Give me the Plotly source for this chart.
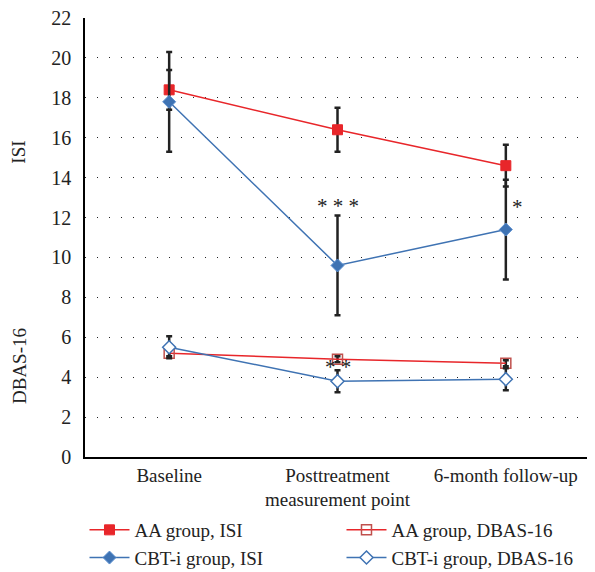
import plotly.graph_objects as go

categories = ["Baseline", "Posttreatment<br>measurement point", "6-month follow-up"]

aa_isi = [18.4, 16.4, 14.6]
aa_isi_err = [1.0, 1.1, 1.05]
cbt_isi = [17.8, 9.6, 11.4]
cbt_isi_err = [2.5, 2.5, 2.5]
aa_dbas = [5.2, 4.9, 4.7]
aa_dbas_err = [0.15, 0.15, 0.15]
cbt_dbas = [5.5, 3.8, 3.9]
cbt_dbas_err = [0.55, 0.55, 0.55]

yticks = list(range(0, 23, 2))

RED = "#e8262a"
BLUE = "#3f73b3"
FONT = "Liberation Serif"

fig = go.Figure()

def err(arr):
    return dict(type="data", array=arr, visible=True, color="#222222", thickness=2.5, width=3)

fig.add_trace(go.Scatter(x=categories, y=aa_isi, name="AA group, ISI", mode="lines+markers",
                         line=dict(color=RED, width=1.5),
                         marker=dict(symbol="square", size=10, color=RED, line=dict(color=RED, width=1)),
                         error_y=err(aa_isi_err), legendrank=1))
fig.add_trace(go.Scatter(x=categories, y=cbt_isi, name="CBT-i group, ISI", mode="lines+markers",
                         line=dict(color=BLUE, width=1.5),
                         marker=dict(symbol="diamond", size=10, color=BLUE, line=dict(color="#5b8fd0", width=1)),
                         error_y=err(cbt_isi_err), legendrank=3))
fig.add_trace(go.Scatter(x=categories, y=aa_dbas, name="AA group, DBAS-16", mode="lines+markers",
                         line=dict(color=RED, width=1.5),
                         marker=dict(symbol="square-open", size=10, color="#c0504d", line=dict(color="#c0504d", width=1.5)),
                         error_y=err(aa_dbas_err), legendrank=2))
fig.add_trace(go.Scatter(x=categories, y=cbt_dbas, name="CBT-i group, DBAS-16", mode="lines+markers",
                         line=dict(color=BLUE, width=1.5),
                         marker=dict(symbol="diamond", size=10, color="white", line=dict(color=BLUE, width=1.5)),
                         error_y=err(cbt_dbas_err), legendrank=4))

annos = [
    dict(x=categories[1], y=11.9, text="* * *", showarrow=False, font=dict(family=FONT, size=21, color="#222"), yanchor="bottom"),
    dict(x=categories[2], y=11.85, text="*", showarrow=False, font=dict(family=FONT, size=21, color="#222"), xshift=12, yanchor="bottom"),
    dict(x=categories[1], y=3.8, text="* *", showarrow=False, font=dict(family=FONT, size=21, color="#222"), yanchor="bottom"),
    dict(x=-0.1307, y=15.3, xref="paper", yref="y", xanchor="center", yanchor="middle", text="ISI",
         textangle=-90, showarrow=False, font=dict(family=FONT, size=19, color="#222")),
    dict(x=-0.1307, y=4.56, xref="paper", yref="y", xanchor="center", yanchor="middle", text="DBAS-16",
         textangle=-90, showarrow=False, font=dict(family=FONT, size=19, color="#222")),
]

fig.update_layout(
    width=587, height=564,
    margin=dict(l=77, r=5, t=10, b=115, autoexpand=False),
    paper_bgcolor="white", plot_bgcolor="white",
    font=dict(family=FONT, size=19, color="#222"),
    showlegend=True,
    legend=dict(orientation="h", x=-0.001, y=-0.123, xanchor="left", yanchor="top",
                entrywidth=202, entrywidthmode="pixels", font=dict(family=FONT, size=19),
                tracegroupgap=0, itemwidth=40),
    annotations=annos,
)
fig.update_xaxes(type="category", range=[-0.5, 2.5], showline=True, linecolor="black", linewidth=1.5,
                 showgrid=False, ticks="", tickfont=dict(family=FONT, size=19))
fig.update_yaxes(range=[0, 22], tickvals=yticks, showline=True, linecolor="black", linewidth=1.5,
                 showgrid=True, gridcolor="#222", gridwidth=1.2, griddash="1px,11px", zeroline=False,
                 ticks="", ticklabelstandoff=8, ticklabeloverflow="allow", tickfont=dict(family=FONT, size=20))

fig.write_html("out.html")
